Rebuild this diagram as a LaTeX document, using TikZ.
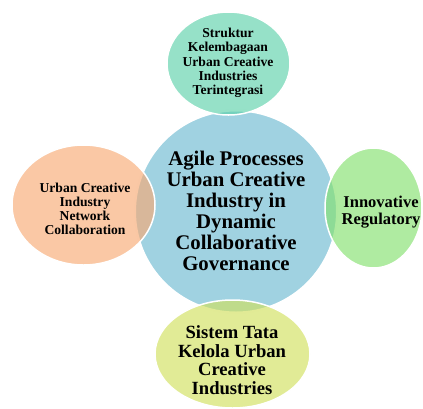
\documentclass[tikz,border=0pt]{standalone}
\usepackage{fontspec}
\setmainfont{Liberation Serif}
\usepackage{xcolor}
\usepackage{tikz}
\usetikzlibrary{positioning,shapes}

\definecolor{hubblue}{RGB}{160,210,225}
\definecolor{topmint}{RGB}{93,209,170}
\definecolor{leftpeach}{RGB}{247,170,116}
\definecolor{rightgreen}{RGB}{132,224,110}
\definecolor{bottomlime}{RGB}{209,224,93}

\begin{document}
\begin{tikzpicture}[x=1pt,y=-1pt,
    blob/.style={draw=white,line width=1.5pt,fill opacity=0.65},
    lbl/.style={font=\bfseries,align=center,inner sep=0pt}]
          \clip (0,0) rectangle (423,408);
          % hub
          \draw[fill=hubblue,draw=white,line width=2pt] (236,211.5) circle [radius=101pt];
          % satellites
          \path[blob,fill=topmint] (228.5,63.5) ellipse [x radius=61.5pt,y radius=51.5pt];
          \path[blob,fill=leftpeach] (83.5,205) ellipse [x radius=71.5pt,y radius=60pt];
          \path[blob,fill=rightgreen] (373.5,208) ellipse [x radius=48.5pt,y radius=60pt];
          \path[blob,fill=bottomlime] (232.5,354) ellipse [x radius=77.5pt,y radius=54pt];
          % labels
          \draw node[lbl,font=\bfseries\fontsize{20.8}{21}\selectfont] (hub) at (236,211)
            {Agile Processes\\Urban Creative\\Industry in\\Dynamic\\Collaborative\\Governance};
          \draw node[lbl,font=\bfseries\fontsize{13.6}{14.3}\selectfont] (struktur) at (228,63)
            {Struktur\\Kelembagaan\\Urban Creative\\Industries\\Terintegrasi};
          \draw node[lbl,font=\bfseries\fontsize{13.6}{14}\selectfont] (network) at (85,209)
            {Urban Creative\\Industry\\Network\\Collaboration};
          \draw node[lbl,font=\bfseries\fontsize{16.5}{17}\selectfont] (regulatory) at (381,212)
            {Innovative\\Regulatory};
          \draw node[lbl,font=\bfseries\fontsize{18.6}{18.5}\selectfont] (sistem) at (232,360)
            {Sistem Tata\\Kelola Urban\\Creative\\Industries};
        \end{tikzpicture}
\end{document}
